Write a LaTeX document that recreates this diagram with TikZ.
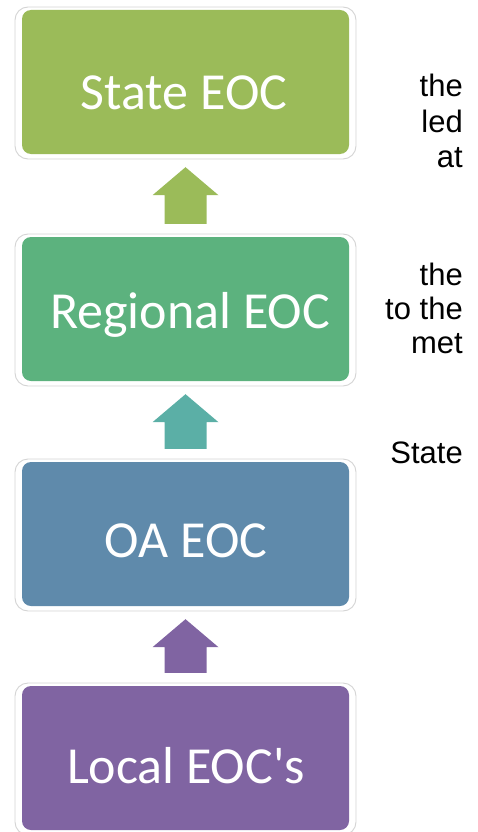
\documentclass[tikz,border=0pt]{standalone}
\usepackage{fontspec}
\setmainfont{Liberation Sans}
\newfontfamily\boxfont{Carlito}
\usetikzlibrary{calc}

\definecolor{stategreen}{HTML}{9BBB59}
\definecolor{regiongreen}{HTML}{5CB27E}
\definecolor{oablue}{HTML}{5F8AAB}
\definecolor{localpurple}{HTML}{8064A2}
\definecolor{tealarrow}{HTML}{5BAFA6}
\definecolor{ringgray}{HTML}{D4D4D4}

\tikzset{
  tier/.style={draw=none, rounded corners=9pt, minimum width=327pt,
    minimum height=144pt, inner sep=0pt},
  ring/.style={fill=white, draw=ringgray, line width=0.9pt, rounded corners=13pt},
  tierlabel/.style={text=white, anchor=base, inner sep=0pt,
    font=\boxfont\fontsize{52}{62}\selectfont},
  sidetext/.style={anchor=base east, inner sep=0pt,
    font=\fontsize{31}{36}\selectfont}
}

% block arrow from the lower tier up to the upper tier
\newcommand{\tierarrow}[3]{%
  \fill[#3] ($(#2.south)+(0,13)$) -- ($(#2.south)+(33,41)$)
    -- ($(#2.south)+(21,41)$) -- ($(#1.north)+(21,-13)$)
    -- ($(#1.north)+(-21,-13)$) -- ($(#2.south)+(-21,41)$)
    -- ($(#2.south)+(-33,41)$) -- cycle;}

\begin{document}
\begin{tikzpicture}[x=1pt, y=-1pt]
  \useasboundingbox (0,0) rectangle (478,832);

  % white frames behind the tiers
  \foreach \cy in {82,309,534,758}
    \fill[ring] (15,\cy-75) rectangle (356,\cy+77);

  % tiers
  \node[tier, fill=stategreen]  (state)    at (185.5,82)  {};
  \node[tier, fill=regiongreen] (regional) at (185.5,309) {};
  \node[tier, fill=oablue]      (oa)       at (185.5,534) {};
  \node[tier, fill=localpurple] (local)    at (185.5,758) {};

  % tier labels
  \node[tierlabel] (lstate)    at (184,110) {State EOC};
  \node[tierlabel] (lregional) at (190,328) {Regional EOC};
  \node[tierlabel] (loa)       at (186,557) {OA EOC};
  \node[tierlabel] (llocal)    at (186,783) {Local EOC's};

  % upward block arrows
  \tierarrow{regional}{state}{stategreen}
  \tierarrow{oa}{regional}{tealarrow}
  \tierarrow{local}{oa}{localpurple}

  % text fragments on the right
  \node[sidetext] (s1) at (463,97)  {the};
  \node[sidetext] (s2) at (463,132) {led};
  \node[sidetext] (s3) at (463,167) {at};
  \node[sidetext] (s4) at (463,285) {the};
  \node[sidetext] (s5) at (463,319) {to the};
  \node[sidetext] (s6) at (463,353) {met};
  \node[sidetext] (s7) at (463,463) {State};
\end{tikzpicture}
\end{document}
